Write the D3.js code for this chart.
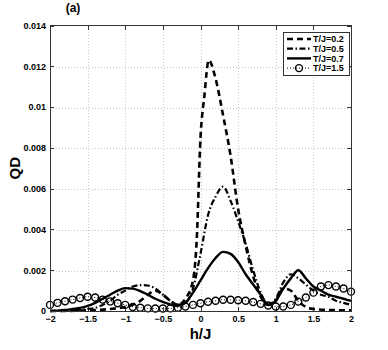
<!DOCTYPE html>
<style>
body { margin: 0; background: #fff; }
text { font-family: "Liberation Sans", Arial, sans-serif; font-weight: bold; }
.grid line { stroke: #c8c8c8; stroke-width: 1px; stroke-dasharray: 1,2; shape-rendering: crispEdges; }
.axis path { display: none; }
.axis line { stroke: #333; shape-rendering: crispEdges; }
.axis text { font-size: 9px; fill: #000; }
</style>
<svg width="388" height="350"></svg>
<script src="https://d3js.org/d3.v7.min.js"></script>
<script>
var svg = d3.select("svg"),
    margin = {top: 25.5, right: 37, bottom: 39, left: 50},
    width = 388 - margin.left - margin.right,
    height = 350 - margin.top - margin.bottom,
    g = svg.append("g").attr("transform", "translate(" + margin.left + "," + margin.top + ")");

// tick labels
var xTicks = [-2, -1.5, -1, -0.5, 0, 0.5, 1, 1.5, 2];
var xTickLabels = ["\u22122", "\u22121.5", "\u22121", "\u22120.5", "0", "0.5", "1", "1.5", "2"];
var yTicks = [0, 0.002, 0.004, 0.006, 0.008, 0.01, 0.012, 0.014];
var yTickLabels = ["0", "0.002", "0.004", "0.006", "0.008", "0.01", "0.012", "0.014"];

// T/J=0.2 (dashed)
var h02 = [-2, -1.8, -1.6, -1.4, -1.2, -1.0, -0.9, -0.8, -0.7, -0.6, -0.5, -0.4, -0.3, -0.2, -0.1, -0.05, 0, 0.05, 0.11, 0.2, 0.3, 0.4, 0.5, 0.6, 0.7, 0.8, 0.9, 1.0, 1.1, 1.2, 1.3, 1.4, 1.5, 1.7, 2.0];
var q02 = [0, 0, 0.00002, 0.00005, 0.0001, 0.0002, 0.0003, 0.0005, 0.0008, 0.001, 0.0008, 0.0005, 0.0003, 0.0006, 0.0015, 0.0035, 0.0085, 0.0105, 0.0123, 0.0114, 0.0096, 0.0076, 0.005, 0.0032, 0.0017, 0.0007, 0.0003, 0.0005, 0.0011, 0.001, 0.0005, 0.0002, 0.0001, 0.00005, 0.00003];

// common grid for the other three curves
var hGrid = [-2, -1.9, -1.8, -1.7, -1.6, -1.5, -1.4, -1.3, -1.2, -1.1, -1, -0.9, -0.8, -0.7, -0.6, -0.5, -0.4, -0.3, -0.2, -0.1, 0, 0.1, 0.2, 0.3, 0.4, 0.5, 0.6, 0.7, 0.8, 0.9, 1, 1.1, 1.2, 1.3, 1.4, 1.5, 1.6, 1.7, 1.8, 1.9, 2];
// T/J=0.5 (dash-dot)
var q05 = [0, 0.00001, 0.00002, 0.00004, 0.00006, 0.0001, 0.00015, 0.0003, 0.0005, 0.0008, 0.001, 0.0012, 0.00127, 0.00125, 0.0011, 0.0008, 0.0005, 0.0003, 0.0004, 0.0011, 0.0028, 0.0047, 0.0056, 0.0061, 0.0054, 0.0044, 0.0033, 0.002, 0.0009, 0.0003, 0.0006, 0.0014, 0.0018, 0.0016, 0.0013, 0.001, 0.0008, 0.0007, 0.0005, 0.0004, 0.0003];
// T/J=0.7 (solid)
var q07 = [0, 0.00002, 0.00005, 0.0001, 0.00015, 0.00025, 0.0004, 0.0006, 0.0008, 0.001, 0.00112, 0.0011, 0.00098, 0.0008, 0.0006, 0.00045, 0.00032, 0.00025, 0.0004, 0.0009, 0.0015, 0.0021, 0.0026, 0.0029, 0.0028, 0.0024, 0.0018, 0.0013, 0.0008, 0.0003, 0.0005, 0.0011, 0.0016, 0.002, 0.0016, 0.0012, 0.001, 0.0008, 0.0007, 0.0006, 0.0005];
// T/J=1.5 (circles)
var q15 = [0.0003, 0.0004, 0.00048, 0.00056, 0.00064, 0.0007, 0.00066, 0.00056, 0.00047, 0.00038, 0.0003, 0.0002, 0.00016, 0.00013, 0.00012, 0.00012, 0.00013, 0.00016, 0.00022, 0.0003, 0.00038, 0.00045, 0.0005, 0.00055, 0.00055, 0.00053, 0.0005, 0.00044, 0.00035, 0.00027, 0.00022, 0.00022, 0.0003, 0.00046, 0.00066, 0.0009, 0.0012, 0.00127, 0.0012, 0.0011, 0.00095];

var legendLabels = ["T/J=0.2", "T/J=0.5", "T/J=0.7", "T/J=1.5"];

var x = d3.scaleLinear().domain([-2, 2]).range([0, width]);
var y = d3.scaleLinear().domain([0, 0.014]).range([height, 0]);

// grid
g.append("g").attr("class", "grid")
  .selectAll("line").data(xTicks.slice(1, -1)).enter().append("line")
    .attr("x1", d => Math.round(x(d)) + 0.5).attr("x2", d => Math.round(x(d)) + 0.5)
    .attr("y1", 0).attr("y2", height);
g.append("g").attr("class", "grid")
  .selectAll("line").data(yTicks.slice(1, -1)).enter().append("line")
    .attr("y1", d => Math.round(y(d)) + 0.5).attr("y2", d => Math.round(y(d)) + 0.5)
    .attr("x1", 0).attr("x2", width);

// axes with inward ticks
g.append("g").attr("class", "axis").attr("transform", "translate(0," + height + ")")
  .call(d3.axisBottom(x).tickValues(xTicks).tickSizeInner(-4).tickPadding(5).tickFormat((d, i) => xTickLabels[i]));
g.append("g").attr("class", "axis")
  .call(d3.axisTop(x).tickValues(xTicks).tickSizeInner(-4).tickFormat(""));
g.append("g").attr("class", "axis")
  .call(d3.axisLeft(y).tickValues(yTicks).tickSizeInner(-4).tickPadding(4).tickFormat((d, i) => yTickLabels[i]));
g.append("g").attr("class", "axis").attr("transform", "translate(" + width + ",0)")
  .call(d3.axisRight(y).tickValues(yTicks).tickSizeInner(-4).tickFormat(""));

var line = d3.line().x(d => x(d[0])).y(d => y(d[1])).curve(d3.curveMonotoneX);
function pairs(hs, qs) { return hs.map((h, i) => [h, qs[i]]); }

var series = [
  {data: pairs(h02, q02), width: 2.6, dash: "6,4"},
  {data: pairs(hGrid, q05), width: 2.2, dash: "6,2.5,1.5,2.5"},
  {data: pairs(hGrid, q07), width: 2.4, dash: null},
  {data: pairs(hGrid, q15), width: 1, dash: "1,2"}
];

var plot = g.append("g");
series.forEach(function(s) {
  plot.append("path")
    .datum(s.data)
    .attr("fill", "none")
    .attr("stroke", "#000")
    .attr("stroke-width", s.width)
    .attr("stroke-dasharray", s.dash)
    .attr("d", line);
});
plot.selectAll("circle").data(series[3].data).enter().append("circle")
  .attr("cx", d => x(d[0])).attr("cy", d => y(d[1])).attr("r", 3.5)
  .attr("fill", "none").attr("stroke", "#000").attr("stroke-width", 1.4);

// box
g.append("rect").attr("width", width).attr("height", height)
  .attr("fill", "none").attr("stroke", "#333").attr("stroke-width", 1)
  .attr("shape-rendering", "crispEdges");

// legend
var lg = g.append("g").attr("transform", "translate(" + (width - 68) + ",7)");
lg.append("rect").attr("width", 66).attr("height", 43)
  .attr("fill", "#fff").attr("stroke", "#333").attr("stroke-width", 1).attr("shape-rendering", "crispEdges");
var rows = lg.selectAll("g.row").data(legendLabels).enter().append("g")
  .attr("class", "row")
  .attr("transform", (d, i) => "translate(0," + (6.5 + i * 9.7) + ")");
rows.append("line")
  .attr("x1", 4).attr("x2", 28).attr("y1", 0).attr("y2", 0)
  .attr("stroke", "#000")
  .attr("stroke-width", (d, i) => series[i].width)
  .attr("stroke-dasharray", (d, i) => series[i].dash);
rows.filter((d, i) => i === 3).append("circle")
  .attr("cx", 16).attr("cy", 0).attr("r", 3.5)
  .attr("fill", "none").attr("stroke", "#000").attr("stroke-width", 1.4);
rows.append("text")
  .attr("x", 30).attr("y", 0).attr("dy", "0.35em")
  .attr("font-size", 9).text(d => d);

// labels
svg.append("text").attr("x", 73).attr("y", 12).attr("text-anchor", "middle")
  .attr("font-size", 12).text("(a)");
svg.append("text").attr("x", margin.left + width / 2).attr("y", 339).attr("text-anchor", "middle")
  .attr("font-size", 15).text("h/J");
svg.append("text").attr("transform", "translate(20," + (margin.top + height / 2) + ") rotate(-90)")
  .attr("text-anchor", "middle").attr("font-size", 15).text("QD");
</script>
